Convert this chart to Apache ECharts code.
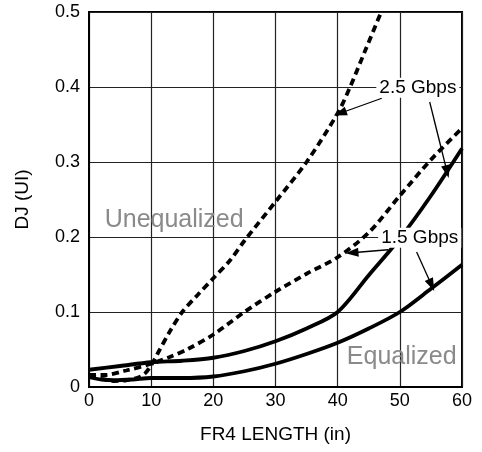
<!DOCTYPE html>
<html><head><meta charset="utf-8">
<script src="https://cdn.jsdelivr.net/npm/echarts@6/dist/echarts.min.js"></script>
<style>html,body{margin:0;padding:0;background:#fff}#c{width:482px;height:452px}</style>
</head><body><div id="c"></div>
<script>
// Unequalized 2.5 Gbps (dashed, steep)
const unEq25X = [0, 2, 4, 6, 8, 9, 10, 11, 13, 15, 17.5, 20, 22.7, 25, 30, 35, 40, 42, 44.5, 47];
const unEq25Y = [0.015, 0.011, 0.008, 0.009, 0.013, 0.018, 0.029, 0.044, 0.074, 0.1, 0.123, 0.145, 0.169, 0.195, 0.247, 0.3, 0.365, 0.4, 0.45, 0.5];
// Unequalized 1.5 Gbps (dashed)
const unEq15X = [0, 2.5, 6, 10, 13, 16, 20, 25, 30, 35, 40, 45, 50, 55, 60];
const unEq15Y = [0.016, 0.016, 0.022, 0.031, 0.04, 0.051, 0.07, 0.1, 0.127, 0.151, 0.173, 0.206, 0.255, 0.303, 0.345];
// Equalized 2.5 Gbps (solid)
const eq25X = [0, 5, 10, 15, 20, 25, 30, 35, 40, 45, 50, 55, 60];
const eq25Y = [0.023, 0.028, 0.033, 0.035, 0.039, 0.048, 0.061, 0.078, 0.1, 0.149, 0.198, 0.255, 0.318];
// Equalized 1.5 Gbps (solid)
const eq15X = [0, 2, 4, 7, 10, 15, 20, 25, 30, 35, 40, 45, 50, 55, 60];
const eq15Y = [0.013, 0.01, 0.009, 0.01, 0.012, 0.012, 0.014, 0.021, 0.031, 0.044, 0.059, 0.078, 0.1, 0.131, 0.163];

// Annotations (data coordinates)
const rateText = ['2.5 Gbps', '1.5 Gbps'];
const rateX = [52.9, 53.2];
const rateY = [0.399, 0.199];
const arrowFromX = [47.1, 54.8, 48.1, 52.7];
const arrowFromY = [0.385, 0.38, 0.183, 0.18];
const arrowToX = [40.4, 57.6, 42.3, 55.1];
const arrowToY = [0.365, 0.287, 0.179, 0.136];
const regionText = ['Unequalized', 'Equalized'];
const regionX = [13.7, 50.3];
const regionY = [0.223, 0.04];

const xTicks = [0, 10, 20, 30, 40, 50, 60];
const yTicks = [0, 0.1, 0.2, 0.3, 0.4, 0.5];

const FONT = 'Liberation Sans, Arial, sans-serif';
const pairs = (xs, ys) => xs.map((x, i) => [x, ys[i]]);

function curve(name, xs, ys, dashed) {
  return {
    name, type: 'line', data: pairs(xs, ys), showSymbol: false, symbol: 'none',
    smooth: 0.3, clip: true,
    lineStyle: { color: '#000', width: 3.8, type: dashed ? [7, 4.5] : 'solid', cap: 'butt' },
    z: 3
  };
}

const chart = echarts.init(document.getElementById('c'), null, { renderer: 'canvas' });
chart.setOption({
  animation: false,
  backgroundColor: '#fff',
  grid: { left: 89, right: 20, top: 12, bottom: 65, show: true, borderColor: '#000', borderWidth: 2, backgroundColor: 'transparent' },
  xAxis: {
    type: 'value', min: xTicks[0], max: xTicks[xTicks.length - 1], interval: 10,
    name: 'FR4 LENGTH (in)', nameLocation: 'middle', nameGap: 38,
    nameTextStyle: { fontFamily: FONT, fontSize: 19, color: '#000' },
    axisLine: { show: true, lineStyle: { color: '#000', width: 2 } },
    axisTick: { show: false },
    axisLabel: { fontFamily: FONT, fontSize: 18, color: '#000', margin: 5 },
    splitLine: { show: true, lineStyle: { color: '#222', width: 1.2 } }
  },
  yAxis: {
    type: 'value', min: yTicks[0], max: yTicks[yTicks.length - 1], interval: 0.1,
    name: 'DJ (UI)', nameLocation: 'middle', nameGap: 57, nameRotate: 90,
    nameTextStyle: { fontFamily: FONT, fontSize: 19, color: '#000' },
    axisLine: { show: true, lineStyle: { color: '#000', width: 2 } },
    axisTick: { show: false },
    axisLabel: { fontFamily: FONT, fontSize: 18, color: '#000', margin: 9,
      formatter: v => (v === 0 ? '0' : v.toFixed(1)) },
    splitLine: { show: true, lineStyle: { color: '#222', width: 1.2 } }
  },
  series: [
    curve('Unequalized 2.5 Gbps', unEq25X, unEq25Y, true),
    curve('Unequalized 1.5 Gbps', unEq15X, unEq15Y, true),
    curve('Equalized 2.5 Gbps', eq25X, eq25Y, false),
    curve('Equalized 1.5 Gbps', eq15X, eq15Y, false),
    {
      name: 'annotations', type: 'line', data: [], z: 10, silent: true,
      markLine: {
        silent: true, animation: false,
        symbol: ['none', 'triangle'], symbolSize: [9, 13],
        label: { show: false },
        lineStyle: { color: '#000', width: 1.3, type: 'solid' },
        data: arrowFromX.map((x, i) => [
          { coord: [x, arrowFromY[i]] },
          { coord: [arrowToX[i], arrowToY[i]] }
        ])
      },
      markPoint: {
        silent: true, animation: false, symbol: 'rect', symbolSize: 0,
        data: rateText.map((t, i) => ({
          coord: [rateX[i], rateY[i]], value: t,
          label: { show: true, position: 'inside', formatter: t, fontFamily: FONT, fontSize: 19,
            color: '#000', backgroundColor: '#fff', padding: [1, 3, 0, 3] }
        })).concat(regionText.map((t, i) => ({
          coord: [regionX[i], regionY[i]], value: t,
          label: { show: true, position: 'inside', formatter: t, fontFamily: FONT, fontSize: 25,
            color: '#8a8a8a' }
        })))
      }
    }
  ]
});
</script></body></html>
